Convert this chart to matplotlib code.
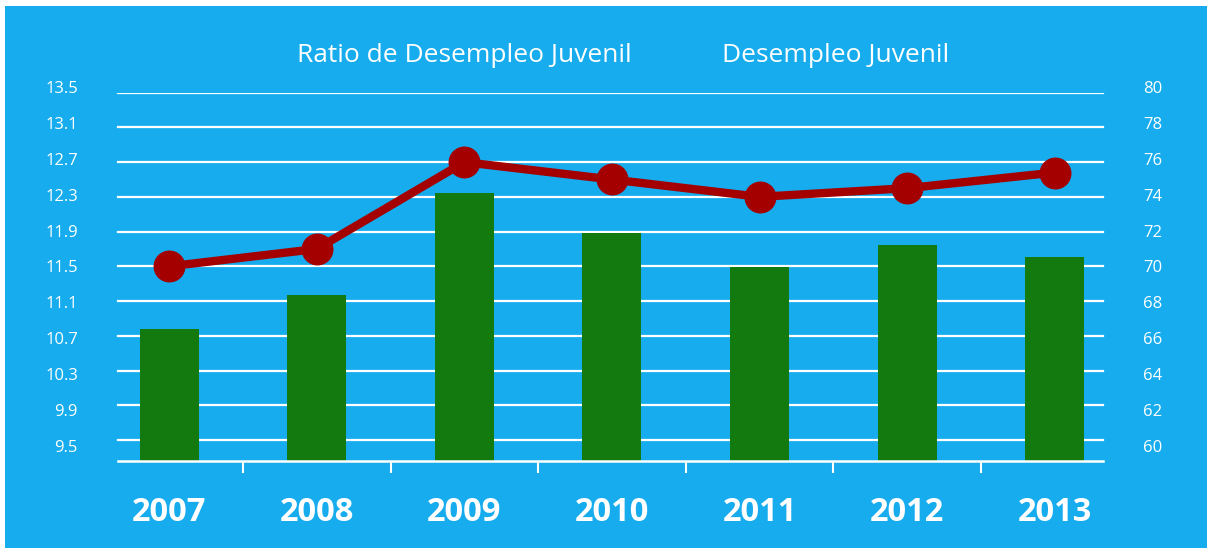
import matplotlib
matplotlib.use("Agg")
from matplotlib import pyplot as plt
from matplotlib.patches import Rectangle
from matplotlib.transforms import ScaledTranslation

# chart data
years = ["2007", "2008", "2009", "2010", "2011", "2012", "2013"]
ratio = [10.78, 11.17, 12.35, 11.88, 11.49, 11.75, 11.61]        # bars, left axis
desempleo = [70.0, 71.0, 76.0, 75.0, 74.0, 74.5, 75.4]           # line, right axis

left_ticks = [9.5, 9.9, 10.3, 10.7, 11.1, 11.5, 11.9, 12.3, 12.7, 13.1, 13.5]
right_ticks = [60, 62, 64, 66, 68, 70, 72, 74, 76, 78, 80]

bg = "#16acee"
green = "#127a0f"
red = "#a50000"

plt.rcParams["font.family"] = ["Open Sans", "DejaVu Sans"]

fig = plt.figure(figsize=(12.07, 5.48), dpi=100)
fig.patch.set_facecolor("white")
fig.patches.append(Rectangle((5 / 1207, 0), 1, 1 - 6 / 548, transform=fig.transFigure,
                             facecolor=bg, edgecolor="none", zorder=-10))

ax = fig.add_axes([0.0790, 0.1588, 0.8560, 0.6721])
ax.set_facecolor("none")
x = list(range(len(years)))

g0, g1 = 0.0219, 0.9752
for v in left_ticks:
    ax.axhline(v, xmin=g0, xmax=g1, color="white", lw=1.6, zorder=0)

ax.bar(x, ratio, width=0.40, color=green, zorder=2)

ax.plot([g0, g1], [0, 0], transform=ax.transAxes, color="white", lw=1.8, clip_on=False, zorder=3)

for s in ax.spines.values():
    s.set_visible(False)

ax.set_yticks(left_ticks)
ax.set_yticklabels([f"{v:.1f}" for v in left_ticks])
ax.tick_params(axis="y", length=0, pad=12.5, labelsize=12, labelcolor="white")

ax.set_xticks(x)
ax.set_xticklabels(years, fontsize=23.5, fontweight="bold", color="white")
ax.tick_params(axis="x", which="major", length=0, pad=25)
ax.set_xticks([i + 0.5 for i in range(len(years) - 1)], minor=True)
ax.tick_params(axis="x", which="minor", length=8.5, width=1.5, color="white", direction="out")
ax.set_xlim(-0.5, 6.5)
ax.set_ylim(9.258, 13.5)

ax2 = ax.twinx()
ax2.plot(x, desempleo, color=red, lw=6, marker="o", ms=22, zorder=4)
for s in ax2.spines.values():
    s.set_visible(False)
ax2.set_yticks(right_ticks)
ax2.set_yticklabels([str(v) for v in right_ticks])
ax2.tick_params(axis="y", length=0, pad=10.5, labelsize=12, labelcolor="white")
ax2.set_ylim(58.79, 80)

# value labels are spread a little wider than the gridlines in the original
for labs in (ax.get_yticklabels(), ax2.get_yticklabels()):
    for i, lab in enumerate(labs):
        dy = (-6 + i * 1.17) / 100
        lab.set_transform(lab.get_transform() + ScaledTranslation(0, dy, fig.dpi_scale_trans))

fig.text(464 / 1207, 1 - 55 / 548, "Ratio de Desempleo Juvenil", ha="center", va="center",
         fontsize=19, color="white")
fig.text(836 / 1207, 1 - 55 / 548, "Desempleo Juvenil", ha="center", va="center",
         fontsize=19, color="white")

fig.savefig("out.png", dpi=100, facecolor=fig.get_facecolor())
